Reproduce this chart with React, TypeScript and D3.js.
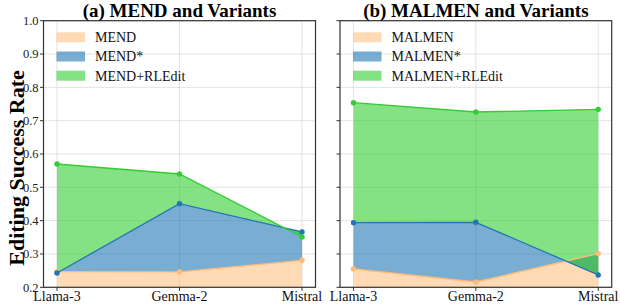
import React from "react";
import * as d3 from "d3";

const categories = ["Llama-3", "Gemma-2", "Mistral"];
const yTicks = [0.2, 0.3, 0.4, 0.5, 0.6, 0.7, 0.8, 0.9, 1.0];

const mendTitle = "(a) MEND and Variants";
const mendNames = ["MEND", "MEND*", "MEND+RLEdit"];
const mendBase = [0.247, 0.246, 0.281];
const mendStar = [0.243, 0.451, 0.366];
const mendRL = [0.570, 0.540, 0.351];

const malmenTitle = "(b) MALMEN and Variants";
const malmenNames = ["MALMEN", "MALMEN*", "MALMEN+RLEdit"];
const malmenBase = [0.255, 0.216, 0.301];
const malmenStar = [0.394, 0.395, 0.237];
const malmenRL = [0.754, 0.726, 0.734];

const FONT = "Liberation Serif, Tinos, Times New Roman, Times, DejaVu Serif, serif";
const C_ORANGE = "#ffbb78";
const C_BLUE = "#1f77b4";
const C_GREEN = "#32cd32";

const TOP = 20.7;
const BOTTOM = 287.3;

type PanelProps = {
  x0: number;
  x1: number;
  title: string;
  names: string[];
  base: number[];
  star: number[];
  rl: number[];
  showYLabels: boolean;
};

function Panel({ x0, x1, title, names, base, star, rl, showYLabels }: PanelProps) {
  const x = d3.scalePoint<string>().domain(categories).range([x0, x1]).padding(0.11);
  const y = d3.scaleLinear().domain([0.2, 1.0]).range([BOTTOM, TOP]);
  const pts = categories.map((c, i) => ({ c, i }));
  const px = (d: { c: string }) => x(d.c) as number;

  const areaPeach = d3.area<{ c: string; i: number }>().x(px).y0(() => y(0.2)).y1((d) => y(base[d.i]))(pts) || "";
  const areaBlue = d3.area<{ c: string; i: number }>().x(px).y0((d) => y(base[d.i])).y1((d) => y(star[d.i]))(pts) || "";
  const areaGreen = d3.area<{ c: string; i: number }>().x(px).y0((d) => y(star[d.i])).y1((d) => y(rl[d.i]))(pts) || "";
  const line = (vals: number[]) =>
    d3.line<{ c: string; i: number }>().x(px).y((d) => y(vals[d.i]))(pts) || "";

  const series = [
    { vals: base, color: C_ORANGE },
    { vals: star, color: C_BLUE },
    { vals: rl, color: C_GREEN },
  ];
  const legendFill = [
    { fill: C_ORANGE, op: 0.55 },
    { fill: C_BLUE, op: 0.6 },
    { fill: C_GREEN, op: 0.6 },
  ];

  return (
    <g style={{ fontFamily: FONT }}>
      {yTicks.map((t) => (
        <line key={"gy" + t} x1={x0} x2={x1} y1={y(t)} y2={y(t)} stroke="#dcdcdc" strokeWidth={0.8} />
      ))}
      {categories.map((c) => (
        <line key={"gx" + c} x1={x(c)} x2={x(c)} y1={TOP} y2={BOTTOM} stroke="#dcdcdc" strokeWidth={0.8} />
      ))}
      <path d={areaPeach} fill={C_ORANGE} fillOpacity={0.55} />
      <path d={areaBlue} fill={C_BLUE} fillOpacity={0.6} />
      <path d={areaGreen} fill={C_GREEN} fillOpacity={0.6} />
      {series.map((s, k) => (
        <g key={"s" + k}>
          <path d={line(s.vals)} fill="none" stroke={s.color} strokeWidth={1.3} />
          {pts.map((d) => (
            <circle key={d.c} cx={px(d)} cy={y(s.vals[d.i])} r={2.7} fill={s.color} />
          ))}
        </g>
      ))}
      <rect x={x0} y={TOP} width={x1 - x0} height={BOTTOM - TOP} fill="none" stroke="#333" strokeWidth={1.2} />
      {yTicks.map((t) => (
        <g key={"yt" + t}>
          <line x1={x0 - 3.5} x2={x0} y1={y(t)} y2={y(t)} stroke="#333" strokeWidth={1} />
          {showYLabels && (
            <text x={x0 - 5} y={y(t)} dy="0.35em" textAnchor="end" fontSize={12.5} fill="#222">
              {t.toFixed(1)}
            </text>
          )}
        </g>
      ))}
      {categories.map((c) => (
        <g key={"xt" + c}>
          <line x1={x(c)} x2={x(c)} y1={BOTTOM} y2={BOTTOM + 3.5} stroke="#333" strokeWidth={1} />
          <text x={x(c)} y={BOTTOM + 14} textAnchor="middle" fontSize={14} fill="#111">
            {c}
          </text>
        </g>
      ))}
      <text x={(x0 + x1) / 2} y={16.5} textAnchor="middle" fontSize={19} fontWeight="bold" fill="#000">
        {title}
      </text>
      {names.map((n, k) => (
        <g key={"lg" + n}>
          <rect x={x0 + 13} y={32.3 + k * 19.2} width={28.5} height={10} fill={legendFill[k].fill} fillOpacity={legendFill[k].op} />
          <text x={x0 + 51.5} y={37.3 + k * 19.2} dy="0.35em" fontSize={14} fill="#111">
            {n}
          </text>
        </g>
      ))}
    </g>
  );
}

export default function App() {
  return (
    <svg width={620} height={305} style={{ position: "absolute", left: 0, top: 0, background: "#fff" }}>
      <rect x={0} y={0} width={620} height={305} fill="#fff" />
      <text
        transform="translate(24,168) rotate(-90)"
        textAnchor="middle"
        style={{ fontFamily: FONT }}
        fontSize={22}
        fontWeight="bold"
        fill="#000"
      >
        Editing Success Rate
      </text>
      <Panel x0={43.5} x1={315.5} title={mendTitle} names={mendNames} base={mendBase} star={mendStar} rl={mendRL} showYLabels={true} />
      <Panel x0={340} x1={611.7} title={malmenTitle} names={malmenNames} base={malmenBase} star={malmenStar} rl={malmenRL} showYLabels={false} />
    </svg>
  );
}
